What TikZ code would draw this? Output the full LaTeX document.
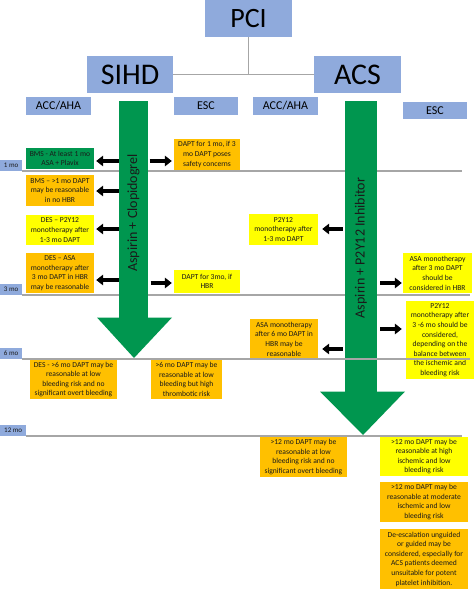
\documentclass[tikz,border=0pt]{standalone}
\usepackage{fontspec}
\setmainfont{Carlito}
\usetikzlibrary{arrows.meta}
\definecolor{lblue}{HTML}{8FAADC}
\definecolor{aorange}{HTML}{FFC000}
\definecolor{ayellow}{HTML}{FFFF00}
\definecolor{agreen}{HTML}{00964F}
\definecolor{txt}{HTML}{1A1A1A}
\definecolor{lgray}{HTML}{A6A6A6}
\tikzset{
  hdr/.style={fill=lblue, inner sep=0pt, text=black},
  sub/.style={hdr, font=\fontsize{12}{14}\selectfont, minimum height=18pt},
  mo/.style={fill=lblue, inner sep=0pt, text=txt, font=\fontsize{7}{8}\selectfont, minimum height=10.5pt, anchor=south west},
  infobox/.style={inner sep=0.5pt, align=center, text=txt, font=\fontsize{7.6}{9.6}\selectfont},
  ob/.style={infobox, fill=aorange},
  yb/.style={infobox, fill=ayellow},
  gb/.style={infobox, fill=agreen},
  bigarr/.style={line width=3.6pt, -{Triangle[length=7pt,width=10.5pt]}, black},
  timeline/.style={lgray, line width=1.2pt},
  conn/.style={lgray, line width=1pt},
  shafttext/.style={rotate=90, text=txt, font=\fontsize{14}{16}\selectfont}
}
\begin{document}
\begin{tikzpicture}[x=1pt,y=-1pt]
\useasboundingbox (0,0) rectangle (474,589);

% top hierarchy
\node[hdr, font=\fontsize{28}{30}\selectfont, minimum width=87pt, minimum height=37pt] (pci) at (248.5,18.5) {PCI};
\node[hdr, font=\fontsize{30}{32}\selectfont, minimum width=86pt, minimum height=37pt] (sihd) at (130,74.5) {SIHD};
\node[hdr, font=\fontsize{30}{32}\selectfont, minimum width=87pt, minimum height=37pt] (acs) at (357.5,74.5) {ACS};
\draw[conn] (pci.south) -- (pci.south |- sihd.east);
\draw[conn] (sihd.east) -- (acs.west);

\node[sub, minimum width=65pt] (accL) at (58.5,106) {ACC/AHA};
\node[sub, minimum width=64pt] (escL) at (206,106) {ESC};
\node[sub, minimum width=65pt] (accR) at (285.5,106) {ACC/AHA};
\node[sub, minimum width=64pt, minimum height=17pt] (escR) at (435,110.5) {ESC};

% time labels and lines
\node[mo, minimum width=22pt] (m1) at (0,171) {1 mo};
\node[mo, minimum width=22pt] (m3) at (0,295) {3 mo};
\node[mo, minimum width=22pt] (m6) at (0,359) {6 mo};
\node[mo, minimum width=26pt] (m12) at (0,436) {12 mo};
\draw[timeline] (m1.south east) -- (m1.south east -| 462,0);
\draw[timeline] (m3.south east) -- (m3.south east -| 470,0);
\draw[timeline] (m12.south east) -- (m12.south east -| 462,0);

% green arrows
\node[fill=agreen, minimum width=29pt, minimum height=217pt, inner sep=0pt] (shaftL) at (133.5,209.5) {};
\fill[agreen] (97,317.5) -- (172,317.5) -- (134,358) -- cycle;
\node[shafttext] (txtL) at (shaftL.center |- 0,213) {Aspirin + Clopidogrel};
\node[fill=agreen, minimum width=32pt, minimum height=291pt, inner sep=0pt] (shaftR) at (361,246.5) {};
\fill[agreen] (320,391.5) -- (405,391.5) -- (363,435) -- cycle;
\node[shafttext] (txtR) at (shaftR.center |- 0,248) {Aspirin + P2Y12 Inhibitor};

% SIHD ACC/AHA
\node[gb, minimum width=68pt, minimum height=21pt] (L1) at (60,158.5) {BMS - At least 1 mo\\ASA + Plavix};
\node[ob, minimum width=68pt, minimum height=31pt] (L2) at (60,190.5) {BMS – >1 mo DAPT\\may be reasonable\\in no HBR};
\node[yb, minimum width=68pt, minimum height=30pt] (L3) at (60,230) {DES – P2Y12\\monotherapy after\\1-3 mo DAPT};
\node[ob, minimum width=68pt, minimum height=40pt] (L4) at (60,273) {DES – ASA\\monotherapy after\\3 mo DAPT in HBR\\may be reasonable};

% SIHD ESC
\node[ob, minimum width=66pt, minimum height=31pt] (E1) at (207,154.5) {DAPT for 1 mo, if 3\\mo DAPT poses\\safety concerns};
\node[yb, minimum width=66pt, minimum height=23pt] (E2) at (207,281.5) {DAPT for 3mo, if\\HBR};

% SIHD 6 mo
\node[ob, minimum width=87pt, minimum height=39pt] (D1) at (73.5,379.5) {DES - >6 mo DAPT may be\\reasonable at low\\bleeding risk and no\\significant overt bleeding};
\node[ob, minimum width=71pt, minimum height=39pt] (D2) at (186.5,379.5) {>6 mo DAPT may be\\reasonable at low\\bleeding but high\\thrombotic risk};

% ACS ACC/AHA
\node[yb, minimum width=69pt, minimum height=31pt] (R1) at (283.5,229.5) {P2Y12\\monotherapy after\\1-3 mo DAPT};
\node[ob, minimum width=68pt, minimum height=40pt] (R2) at (284,339) {ASA monotherapy\\after 6 mo DAPT in\\HBR may be\\reasonable};

% ACS ESC
\node[yb, minimum width=69pt, minimum height=40pt] (S1) at (437.5,273) {ASA monotherapy\\after 3 mo DAPT\\should be\\considered in HBR};
\node[yb, minimum width=68pt, minimum height=78pt] (S2) at (440,340) {P2Y12\\monotherapy after\\3 -6 mo should be\\considered,\\depending on the\\balance between\\the ischemic and\\bleeding risk};

% 12 mo
\node[ob, minimum width=87pt, minimum height=40pt] (T1) at (303.5,457) {>12 mo DAPT may be\\reasonable at low\\bleeding risk and no\\significant overt bleeding};
\node[yb, minimum width=88pt, minimum height=39pt] (U1) at (424,456.5) {>12 mo DAPT may be\\reasonable at high\\ischemic and low\\bleeding risk};
\node[ob, minimum width=88pt, minimum height=40pt] (U2) at (424,502) {>12 mo DAPT may be\\reasonable at moderate\\ischemic and low\\bleeding risk};
\node[ob, minimum width=88pt, minimum height=60pt] (U3) at (424,559) {De-escalation unguided\\or guided may be\\considered, especially for\\ACS patients deemed\\unsuitable for potent\\platelet inhibition.};

% 6 mo line (over boxes)
\draw[timeline] (m6.south east) -- (m6.south east -| 470,0);

% black arrows
\draw[bigarr] (shaftL.west |- 0,161) -- ([xshift=2pt]L1.east |- 0,161);
\draw[bigarr] (shaftL.west |- 0,191) -- ([xshift=2pt]L2.east |- 0,191);
\draw[bigarr] (shaftL.west |- 0,229) -- ([xshift=2pt]L3.east |- 0,229);
\draw[bigarr] (shaftL.west |- 0,280) -- ([xshift=2pt]L4.east |- 0,280);
\draw[bigarr] ([xshift=1.5pt]shaftL.east |- 0,161) -- ([xshift=-2pt]E1.west |- 0,161);
\draw[bigarr] ([xshift=2.5pt]shaftL.east |- 0,283) -- ([xshift=-2pt]E2.west |- 0,283);
\draw[bigarr] ([xshift=-2pt]shaftR.west |- 0,229) -- ([xshift=4pt]R1.east |- 0,229);
\draw[bigarr] ([xshift=-2pt]shaftR.west |- 0,349) -- ([xshift=4pt]R2.east |- 0,349);
\draw[bigarr] ([xshift=3pt]shaftR.east |- 0,283) -- ([xshift=-1pt]S1.west |- 0,283);
\draw[bigarr] ([xshift=3pt]shaftR.east |- 0,329) -- ([xshift=-4pt]S2.west |- 0,329);
\end{tikzpicture}
\end{document}
